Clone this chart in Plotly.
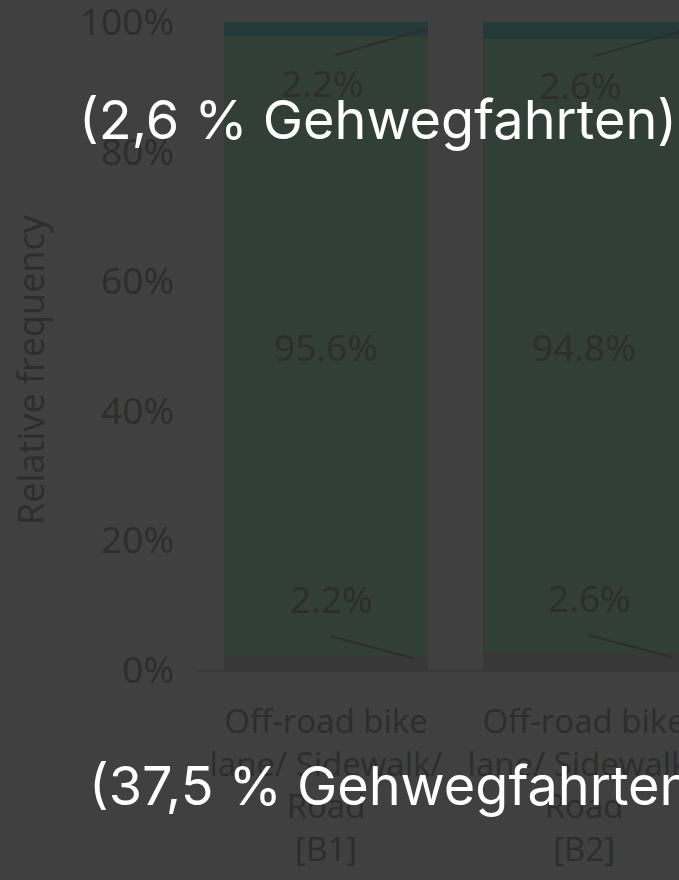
import plotly.graph_objects as go

categories = ["Off-road bike<br>lane/ Sidewalk/<br>Road<br>[B1]",
              "Off-road bike<br>lane/ Sidewalk/<br>Road<br>[B2]"]
bottom_vals = [2.2, 2.6]
middle_vals = [95.6, 94.8]
top_vals = [2.2, 2.6]
y_ticks = [0, 20, 40, 60, 80, 100]
y_tick_text = ["0%", "20%", "40%", "60%", "80%", "100%"]
overlay_top = "(2,6 % Gehwegfahrten)"
overlay_bottom = "(37,5 % Gehwegfahrten)"

BG = "#404040"
TXT = "#2d2d2d"
C_BOTTOM = "#383838"
C_MID = "#323f37"
C_TOP = "#243a3a"
FONT = "Open Sans"

fig = go.Figure()
for vals, col in [(bottom_vals, C_BOTTOM), (middle_vals, C_MID), (top_vals, C_TOP)]:
    fig.add_trace(go.Bar(x=categories, y=vals, marker=dict(color=col, line=dict(width=0)),
                         showlegend=False, hoverinfo="skip"))

ann = []
shapes = []
for i, cat in enumerate(categories):
    b, m, t = bottom_vals[i], middle_vals[i], top_vals[i]
    ann.append(dict(x=cat, y=b + m / 2, xref="x", yref="y", text=f"{m}%", showarrow=False,
                    font=dict(family=FONT, size=37, color=TXT)))
    top_c = b + m + t / 2
    ty = top_c - 8.3
    ann.append(dict(x=i - 0.015, y=ty, xref="x", yref="y", text=f"{t}%", showarrow=False,
                    font=dict(family=FONT, size=37, color=TXT)))
    shapes.append(dict(type="line", xref="x", yref="y", x0=i + 0.035, y0=ty + 4.3,
                       x1=i + 0.39, y1=top_c, line=dict(color=TXT, width=2)))
    bot_c = b / 2
    by = bot_c + 9.9
    ann.append(dict(x=i + 0.02, y=by, xref="x", yref="y", text=f"{b}%", showarrow=False,
                    font=dict(family=FONT, size=37, color=TXT)))
    shapes.append(dict(type="line", xref="x", yref="y", x0=i + 0.017, y0=by - 5.8,
                       x1=i + 0.34, y1=bot_c + 0.7, line=dict(color=TXT, width=2)))

ann.append(dict(x=-0.3465, y=0.4645, xref="paper", yref="paper", xanchor="center", yanchor="middle",
                text="Relative frequency", textangle=-90, showarrow=False,
                font=dict(family=FONT, size=36, color=TXT)))
ann.append(dict(x=-0.249, y=0.8488, xref="paper", yref="paper", xanchor="left", yanchor="middle",
                text=overlay_top, showarrow=False, font=dict(family="Inter", size=54, color="#ffffff")))
ann.append(dict(x=-0.2284, y=-0.1775, xref="paper", yref="paper", xanchor="left", yanchor="middle",
                text=overlay_bottom, showarrow=False, font=dict(family="Inter", size=54, color="#ffffff")))

fig.update_layout(
    width=679, height=880,
    margin=dict(l=197, r=0, t=22, b=210, autoexpand=False),
    paper_bgcolor=BG, plot_bgcolor=BG,
    barmode="stack", bargap=0.213,
    annotations=ann, shapes=shapes,
    xaxis=dict(type="category", range=[-0.5, 1.368], showgrid=False, zeroline=False,
               showline=True, linecolor="#393939", linewidth=2, tickangle=0, automargin=False,
               tickfont=dict(family=FONT, size=33, color=TXT), ticklabelstandoff=21),
    yaxis=dict(range=[0, 100.001], tickvals=y_ticks, ticktext=y_tick_text, showgrid=False, zeroline=False,
               showline=False, automargin=False, ticklabeloverflow="allow",
               tickfont=dict(family=FONT, size=37, color=TXT), ticklabelstandoff=22),
)
fig.write_html("out.html", config={"displayModeBar": False},
               post_script="document.body.style.margin='0';document.body.style.background='#404040';")
